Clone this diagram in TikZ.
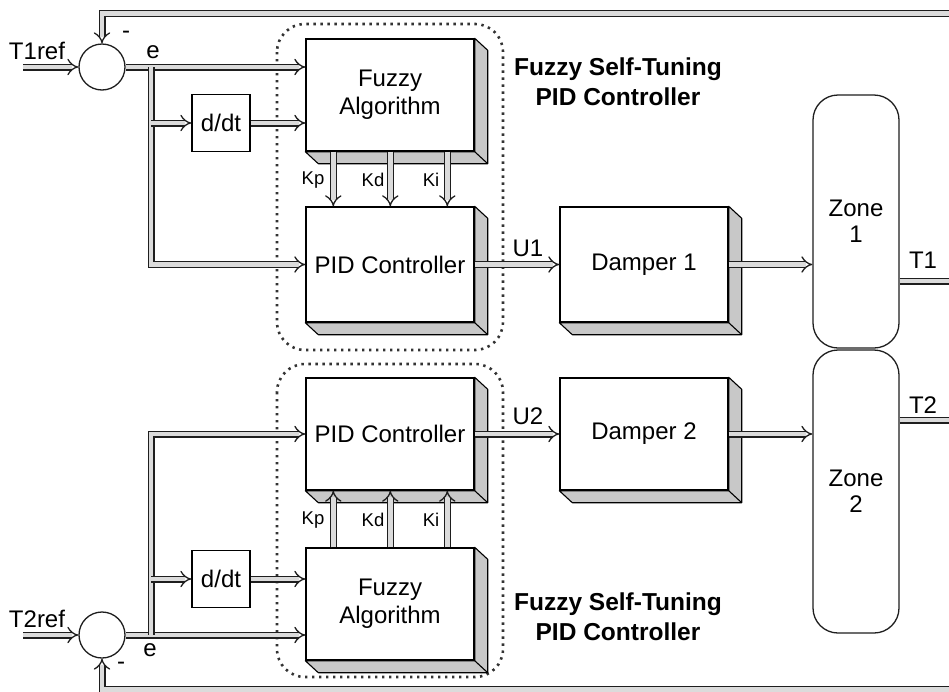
\documentclass[tikz,border=0pt]{standalone}
\usepackage{fontspec}
\setmainfont{Liberation Sans}
\usetikzlibrary{arrows.meta,calc}
\definecolor{shd}{HTML}{C8C8C8}
\definecolor{ln}{HTML}{1E1E1E}
\newcommand\boxshadow[1]{%
  \filldraw[fill=shd, draw=black, line width=1.1pt, line join=round]
    (#1.north east) -- ++(13,12) -- ($(#1.south east)+(13,12)$) -- ($(#1.south west)+(13,12)$)
    -- (#1.south west) -- (#1.south east) -- cycle;
  \draw[line width=1.1pt] (#1.south east) -- ++(13,12);}
\begin{document}
\begin{tikzpicture}[x=1pt,y=-1pt,
  every node/.style={font=\fontsize{24}{28}\selectfont, text=black},
  bigbox/.style={draw=black, line width=1.4pt, fill=white, minimum width=168pt, inner sep=0pt, align=center},
  smallbox/.style={draw=black, line width=1.3pt, fill=white, minimum width=58pt, minimum height=57pt, inner sep=0pt},
  zonebox/.style={draw=ln, line width=1.3pt, rounded corners=25pt, minimum width=86pt, inner sep=0pt, align=center},
  sumnode/.style={draw=ln, line width=1.3pt, circle, minimum size=46pt, inner sep=0pt},
  dotbox/.style={draw=black!80, line width=2.6pt, dash pattern=on 2.4pt off 4.6pt, rounded corners=28pt},
  dbl/.style={draw=ln, line width=1.3pt, double=black!14, double distance=4.4pt},
  arr/.style={dbl, -{Implies[scale=1.8]}},
  klabel/.style={font=\fontsize{18.5}{20}\selectfont},
  head/.style={font=\fontsize{24.5}{30}\selectfont\bfseries, align=center},
  lbl/.style={inner sep=0pt}
]
\clip (0,0) rectangle (949,691);
\fill[white] (0,0) rectangle (949,691);

% dotted containers
\draw[dotbox] (277,24) rectangle (503,350);
\draw[dotbox] (277,364) rectangle (503,677);

% ---------- upper loop ----------
\node[sumnode] (s1) at (102,67) {};
\node[smallbox] (dd1) at (221,123) {d/dt};
\node[bigbox, minimum height=112pt] (fz1) at (390,95) {Fuzzy\\Algorithm};
\node[bigbox, minimum height=115pt] (pid1) at (390,264.5) {PID Controller};
\node[bigbox, minimum height=115pt] (dmp1) at (644,264.5) {Damper 1};
\node[zonebox, minimum height=253pt] (z1) at (856,221.5) {Zone\\[-2pt]1};
\boxshadow{fz1}
\boxshadow{pid1}
\boxshadow{dmp1}

\coordinate (in1) at (23,67);
\coordinate (b1) at (151,67);
\coordinate (fb1) at (949,13.5);
\coordinate (t1r) at (949,281);

\draw[arr] (in1) -- (s1.west);
\draw[arr] (fb1) -| (s1.north);
\draw[arr] (s1.east) -- (fz1.west |- s1.east);
\draw[arr] (b1) |- (pid1.west);
\draw[arr] (b1 |- dd1.west) -- (dd1.west);
\draw[arr] (dd1.east) -- (fz1.west |- dd1.east);
\foreach \o in {28,85,142}
  \draw[arr] ($(fz1.south west)+(\o,0)$) -- ($(pid1.north west)+(\o,0)$);
\draw[arr] (pid1.east) -- (dmp1.west);
\draw[arr] (dmp1.east) -- (z1.west |- dmp1.east);
\draw[dbl] (z1.east |- t1r) -- (t1r);

\node[lbl] (l1) at (37,51) {T1ref};
\node[lbl] (le1) at (153,52) {e};
\node[lbl] (lm1) at (126,35) {-};
\node[lbl, klabel] (kp1) at (313,180) {Kp};
\node[lbl, klabel] (kd1) at (373,180) {Kd};
\node[lbl, klabel] (ki1) at (431,180) {Ki};
\node[lbl] (lu1) at (528,248) {U1};
\node[lbl] (lt1) at (923,260) {T1};
\node[head] (h1) at (618,82) {Fuzzy Self-Tuning\\PID Controller};

% ---------- lower loop ----------
\node[sumnode] (s2) at (102,635) {};
\node[smallbox] (dd2) at (221,579) {d/dt};
\node[bigbox, minimum height=112pt] (pid2) at (390,434) {PID Controller};
\node[bigbox, minimum height=112pt] (dmp2) at (644,434) {Damper 2};
\node[bigbox, minimum height=112pt] (fz2) at (390,604) {Fuzzy\\Algorithm};
\node[zonebox, minimum height=283pt] (z2) at (856,491.5) {Zone\\[-2pt]2};
\boxshadow{pid2}
\boxshadow{dmp2}
\boxshadow{fz2}

\coordinate (in2) at (23,635);
\coordinate (b2) at (151,635);
\coordinate (fb2) at (949,689.5);
\coordinate (t2r) at (949,420);

\draw[arr] (in2) -- (s2.west);
\draw[arr] (fb2) -| (s2.south);
\draw[arr] (s2.east) -- (fz2.west |- s2.east);
\draw[arr] (b2) |- (pid2.west);
\draw[arr] (b2 |- dd2.west) -- (dd2.west);
\draw[arr] (dd2.east) -- (fz2.west |- dd2.east);
\foreach \o in {28,85,142}
  \draw[arr] ($(fz2.north west)+(\o,0)$) -- ($(pid2.south west)+(\o,0)$);
\draw[arr] (pid2.east) -- (dmp2.west);
\draw[arr] (dmp2.east) -- (z2.west |- dmp2.east);
\draw[dbl] (z2.east |- t2r) -- (t2r);

\node[lbl] (l2) at (37,619) {T2ref};
\node[lbl] (le2) at (150,650) {e};
\node[lbl] (lm2) at (121,666) {-};
\node[lbl, klabel] (kp2) at (313,520) {Kp};
\node[lbl, klabel] (kd2) at (373,520) {Kd};
\node[lbl, klabel] (ki2) at (431,520) {Ki};
\node[lbl] (lu2) at (528,416) {U2};
\node[lbl] (lt2) at (923,405) {T2};
\node[head] (h2) at (618,617) {Fuzzy Self-Tuning\\PID Controller};
\end{tikzpicture}
\end{document}
